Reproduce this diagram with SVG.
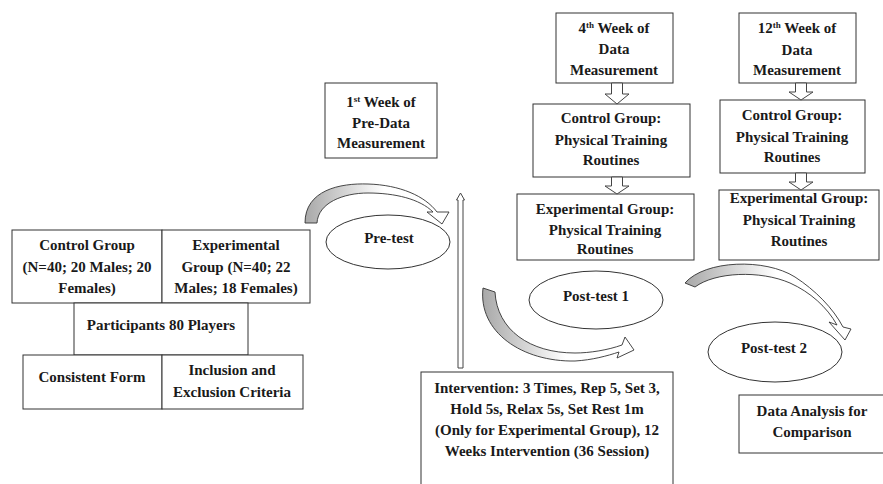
<svg xmlns="http://www.w3.org/2000/svg" width="883" height="484" viewBox="0 0 883 484">
<style>
.box{fill:#fff;stroke:#333;stroke-width:1}
.ell{fill:#fff;stroke:#333;stroke-width:1}
text{font-family:"Liberation Serif","Times New Roman",serif;font-weight:bold;font-size:15px;fill:#1a1a1a;text-anchor:middle}
.sup{font-size:9px}
.blk{fill:#fff;stroke:#444;stroke-width:1}
.curve{fill:url(#g);stroke:#333;stroke-width:0.9}
</style>
<defs>
<linearGradient id="g" x1="0" y1="0" x2="1" y2="0">
<stop offset="0" stop-color="#a8a8a8"/>
<stop offset="0.3" stop-color="#d8d8d8"/>
<stop offset="0.55" stop-color="#fff"/>
<stop offset="1" stop-color="#fff"/>
</linearGradient>
</defs>
<rect width="883" height="484" fill="#fff"/>

<g id="control-group"><rect class="box" x="12" y="230" width="150" height="73"/>
<text x="87" y="250">Control Group</text><text x="87" y="272">(N=40; 20 Males; 20</text><text x="87" y="293">Females)</text></g>
<g id="experimental-group"><rect class="box" x="162" y="230" width="148" height="73"/>
<text x="236" y="250">Experimental</text><text x="236" y="272">Group (N=40; 22</text><text x="236" y="293">Males; 18 Females)</text></g>
<g id="participants"><rect class="box" x="74" y="303" width="174" height="52"/>
<text x="161" y="330">Participants 80 Players</text></g>
<g id="consistent-form"><rect class="box" x="23" y="355" width="139" height="54"/>
<text x="92" y="382">Consistent Form</text></g>
<g id="inclusion"><rect class="box" x="162" y="355" width="141" height="54"/>
<text x="232" y="375">Inclusion and</text><text x="232" y="397">Exclusion Criteria</text></g>

<g id="week1"><rect class="box" x="325" y="83" width="112" height="75"/>
<text x="381" y="107">1<tspan class="sup" dy="-5">st</tspan><tspan dy="5"> Week of</tspan></text><text x="381" y="128">Pre-Data</text><text x="381" y="148">Measurement</text></g>
<g id="pretest"><ellipse class="ell" cx="388" cy="242" rx="62" ry="27"/><text x="389" y="243">Pre-test</text></g>

<g id="week4"><rect class="box" x="556" y="13" width="117" height="70"/>
<text x="614" y="33">4<tspan class="sup" dy="-5">th</tspan><tspan dy="5"> Week of</tspan></text><text x="614" y="54">Data</text><text x="614" y="75">Measurement</text></g>
<g id="control4"><rect class="box" x="533" y="104" width="157" height="73"/>
<text x="611" y="123">Control Group:</text><text x="611" y="145">Physical Training</text><text x="611" y="165">Routines</text></g>
<g id="exp4"><rect class="box" x="517" y="194" width="177" height="66"/>
<text x="605" y="214">Experimental Group:</text><text x="605" y="235">Physical Training</text><text x="605" y="254">Routines</text></g>
<g id="posttest1"><ellipse class="ell" cx="596" cy="300" rx="67" ry="29"/><text x="596" y="301">Post-test 1</text></g>

<g id="week12"><rect class="box" x="739" y="13" width="117" height="70"/>
<text x="797" y="33">12<tspan class="sup" dy="-5">th</tspan><tspan dy="5"> Week of</tspan></text><text x="797" y="55">Data</text><text x="797" y="75">Measurement</text></g>
<g id="control12"><rect class="box" x="720" y="100" width="145" height="73"/>
<text x="792" y="120">Control Group:</text><text x="792" y="142">Physical Training</text><text x="792" y="162">Routines</text></g>
<g id="exp12"><rect class="box" x="719" y="190" width="160" height="70"/>
<text x="799" y="203">Experimental Group:</text><text x="799" y="225">Physical Training</text><text x="799" y="246">Routines</text></g>
<g id="posttest2"><ellipse class="ell" cx="775" cy="352" rx="67" ry="30"/><text x="774" y="353">Post-test 2</text></g>

<g id="intervention"><rect class="box" x="421" y="372" width="252" height="125"/>
<text x="547" y="393">Intervention: 3 Times, Rep 5, Set 3,</text><text x="547" y="414">Hold 5s, Relax 5s, Set Rest 1m</text><text x="547" y="435">(Only for Experimental Group), 12</text><text x="547" y="456">Weeks Intervention (36 Session)</text></g>
<g id="data-analysis"><rect class="box" x="739" y="395" width="150" height="58"/>
<text x="812" y="416">Data Analysis for</text><text x="812" y="437">Comparison</text></g>

<g id="connectors">
<path class="blk" d="M611.5,83 L622.5,83 L622.5,94 L629,94 L617,104 L605,94 L611.5,94 Z"/>
<path class="blk" d="M611.5,177 L622.5,177 L622.5,186 L629,186 L617,194 L605,186 L611.5,186 Z"/>
<path class="blk" d="M795.5,83 L806.5,83 L806.5,92 L813,92 L801,100 L789,92 L795.5,92 Z"/>
<path class="blk" d="M795.5,173 L806.5,173 L806.5,182 L813,182 L801,190 L789,182 L795.5,182 Z"/>
<path class="blk" d="M458,368 L458,200 L456.5,200 L460.5,193 L464.5,200 L463,200 L463,368 Z"/>
<path class="curve" d="M305,223 C305,190 340,183 368,184 C400,185 425,196 437,212 L449,212 L442,224 L427,212 L433,212 C420,199 395,193 368,193 C343,193 318,203 317,223 Z"/>
<path class="curve" d="M483,288 C478,332 522,362 575,361 C592,360 607,356 619,352 L617,358 L634,350 L625,337 L622,345 C608,350 590,353 575,353 C530,353 497,330 495,292 Z"/>
<path class="curve" d="M685,283 C705,260 765,258 795,277 C815,290 833,308 843,327 L851,329 L845,340 L829,322 L837,325 C827,307 810,292 790,283 C760,270 715,272 695,287 Z"/>
</g>
</svg>
